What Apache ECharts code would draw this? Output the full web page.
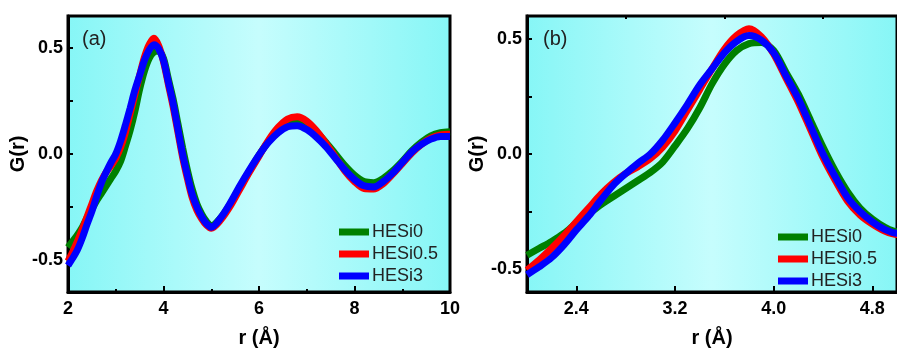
<!DOCTYPE html>
<html><head><meta charset="utf-8">
<script src="https://cdn.jsdelivr.net/npm/echarts@6/dist/echarts.min.js"></script>
<style>html,body{margin:0;padding:0;background:#fff}#c{width:897px;height:353px}</style>
</head><body><div id="c"></div>
<script>
const rValues = [2.0,2.1,2.2,2.3,2.4,2.5,2.6,2.7,2.8,2.9,3.0,3.1,3.2,3.3,3.4,3.5,3.6,3.7,3.8,3.9,4.0,4.1,4.2,4.3,4.4,4.5,4.6,4.7,4.8,4.9,5.0,
  5.2,5.4,5.6,5.8,6.0,6.2,6.4,6.6,6.8,7.0,7.2,7.4,7.6,7.8,8.0,8.2,8.4,8.6,8.8,9.0,9.2,9.4,9.6,9.8,10.0];
const hesi0 = [-0.44,-0.41,-0.38,-0.345,-0.30,-0.26,-0.22,-0.185,-0.15,-0.115,-0.08,-0.035,0.035,0.11,0.20,0.305,0.39,0.45,0.48,0.485,0.45,0.355,0.26,0.145,0.03,-0.075,-0.165,-0.235,-0.283,-0.318,-0.338,
  -0.30,-0.235,-0.155,-0.08,-0.005,0.06,0.115,0.148,0.155,0.14,0.105,0.055,0.0,-0.055,-0.10,-0.13,-0.135,-0.115,-0.08,-0.035,0.015,0.055,0.085,0.10,0.105];
const hesi05 = [-0.505,-0.46,-0.41,-0.355,-0.295,-0.235,-0.175,-0.125,-0.085,-0.055,-0.02,0.03,0.10,0.19,0.28,0.37,0.455,0.515,0.545,0.51,0.435,0.33,0.225,0.105,-0.015,-0.115,-0.205,-0.265,-0.305,-0.335,-0.35,
  -0.31,-0.245,-0.165,-0.085,-0.01,0.065,0.125,0.165,0.175,0.155,0.11,0.05,-0.015,-0.08,-0.13,-0.163,-0.165,-0.14,-0.095,-0.045,0.005,0.045,0.075,0.09,0.093];
const hesi3 = [-0.525,-0.49,-0.45,-0.395,-0.33,-0.27,-0.20,-0.135,-0.085,-0.04,0.0,0.06,0.135,0.215,0.30,0.37,0.44,0.49,0.515,0.495,0.44,0.34,0.24,0.12,0.0,-0.10,-0.19,-0.25,-0.295,-0.328,-0.345,
  -0.30,-0.23,-0.15,-0.075,-0.005,0.055,0.10,0.128,0.133,0.115,0.08,0.035,-0.02,-0.075,-0.12,-0.15,-0.155,-0.13,-0.09,-0.04,0.01,0.045,0.07,0.083,0.083];
const seriesNames = ['HESi0','HESi0.5','HESi3'];
const seriesColors = ['#008000','#ff0000','#0000ff'];
const rightXLabels = [2.4,3.2,4.0,4.8];
const rightXMinor = [2.8,3.6,4.4];
const yLabels = [-0.5,0,0.5];
const yTicks = [-0.5,-0.25,0,0.25,0.5];

const FONT = "'Liberation Sans', Arial, sans-serif";
const allSeries = [hesi0, hesi05, hesi3];
function pairs(vals){ return rValues.map((x,i)=>[x, vals[i]]); }
const bg = {type:'linear',x:0,y:0,x2:1,y2:0,colorStops:[
  {offset:0,color:'#86F6F6'},{offset:0.5,color:'#C6FDFD'},{offset:1,color:'#86F6F6'}]};
const labelStyle = {fontFamily:FONT,fontWeight:'bold',fontSize:18,color:'#000'};

function xAxisMain(gi, min, max, extra){
  return Object.assign({
    type:'value', gridIndex:gi, min:min, max:max,
    name:'r (Å)', nameLocation:'middle', nameGap:36,
    nameTextStyle:{fontFamily:FONT,fontWeight:'bold',fontSize:20,color:'#000'},
    axisLine:{show:true,onZero:false,lineStyle:{color:'#000',width:3}},
    axisTick:{show:true,inside:true,length:6,lineStyle:{color:'#000',width:2}},
    axisLabel:Object.assign({margin:8},labelStyle),
    splitLine:{show:false}
  }, extra);
}
function yAxisMain(gi, min, max){
  return {
    type:'value', gridIndex:gi, min:min, max:max,
    name:'G(r)', nameLocation:'middle', nameGap:36,
    nameTextStyle:{fontFamily:FONT,fontWeight:'bold',fontSize:20,color:'#000'},
    axisLine:{show:true,onZero:false,lineStyle:{color:'#000',width:3}},
    axisTick:{show:true,inside:true,length:5,lineStyle:{color:'#000',width:2},customValues:yTicks},
    axisLabel:Object.assign({margin:5,customValues:yLabels,formatter:v=>v.toFixed(1)},labelStyle),
    splitLine:{show:false}
  };
}

const series = [];
[0,1].forEach(gi=>{
  allSeries.forEach((vals,k)=>{
    series.push({
      type:'line', name:seriesNames[k], xAxisIndex: gi===0?0:1, yAxisIndex:gi,
      data:pairs(vals), smooth:0.3, showSymbol:false, symbol:'none',
      lineStyle:{color:seriesColors[k],width:7}, itemStyle:{color:seriesColors[k]},
      clip:true, z:2+k
    });
  });
});

const legendBase = {
  orient:'vertical', icon:'rect', itemWidth:30, itemHeight:7, itemGap:4, padding:0,
  data:seriesNames, selectedMode:false,
  textStyle:{fontFamily:FONT,fontSize:18,color:'#222',lineHeight:18,padding:[0,0,0,-2]}
};

const chart = echarts.init(document.getElementById('c'));
chart.setOption({
  animation:false,
  grid:[
    {left:68,top:16,width:382,height:280,show:true,backgroundColor:bg,borderColor:'#000',borderWidth:3},
    {left:527,top:16,width:374,height:280,show:true,backgroundColor:bg,borderColor:'#000',borderWidth:3}
  ],
  xAxis:[
    xAxisMain(0,2,10,{interval:2,minorTick:{show:true,splitNumber:2,length:3,lineStyle:{color:'#000',width:2}}}),
    xAxisMain(1,2,5,{axisTick:{show:true,inside:true,length:6,lineStyle:{color:'#000',width:2},customValues:rightXLabels},
      axisLabel:Object.assign({margin:8,customValues:rightXLabels,formatter:v=>v.toFixed(1)},labelStyle)}),
    {type:'value',gridIndex:1,min:2,max:5,axisLine:{show:false,onZero:false},axisLabel:{show:false},splitLine:{show:false},
      axisTick:{show:true,inside:true,length:3,lineStyle:{color:'#000',width:2},customValues:rightXMinor}}
  ],
  yAxis:[ yAxisMain(0,-0.65,0.65), yAxisMain(1,-0.6,0.6) ],
  legend:[
    Object.assign({left:339,top:223},legendBase),
    Object.assign({left:778,top:228},legendBase)
  ],
  graphic:[
    {type:'text',left:82,top:29,style:{text:'(a)',font:"20px 'Liberation Sans', Arial",fill:'#222'}},
    {type:'text',left:543,top:29,style:{text:'(b)',font:"20px 'Liberation Sans', Arial",fill:'#222'}}
  ],
  series:series
});
</script></body></html>
